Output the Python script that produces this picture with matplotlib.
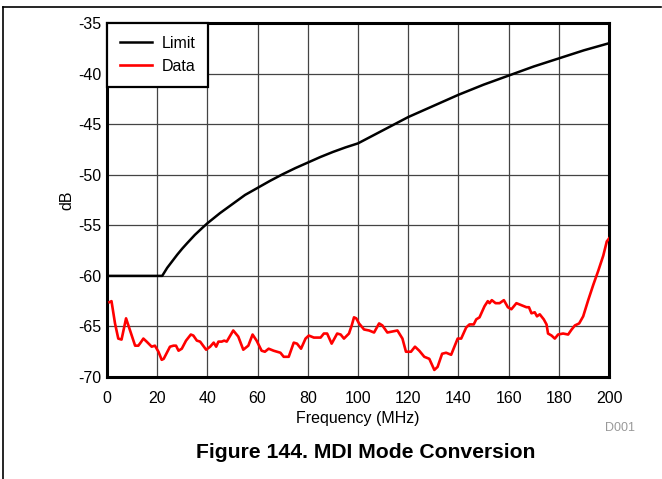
import numpy as np
import matplotlib.pyplot as plt
from matplotlib.lines import Line2D

plt.rcParams['font.family'] = ['Liberation Sans', 'DejaVu Sans']
plt.rcParams['axes.unicode_minus'] = False

# Limite
limit_f = [0, 22, 23, 24, 26, 28, 30, 32, 35, 38, 40, 45, 50, 55, 60, 65, 70, 75, 80,
           85, 90, 95, 100, 110, 120, 130, 140, 150, 160, 170, 180, 190, 200]
limit_db = [-60, -60, -59.6, -59.2, -58.55, -57.9, -57.3, -56.75, -55.95, -55.25, -54.8,
            -53.8, -52.9, -52.0, -51.3, -50.6, -49.95, -49.35, -48.8, -48.25, -47.75,
            -47.3, -46.9, -45.6, -44.3, -43.2, -42.1, -41.1, -40.2, -39.3, -38.5,
            -37.7, -37.0]

data_f = [1.0, 1.8, 3.2, 4.5, 5.8, 7.6, 9.2, 11.2, 12.5, 13.4, 14.5, 15.8, 17.8, 19.1,
          20.5, 21.8, 22.6, 25.1, 26.5, 27.5, 28.5, 29.8, 31.5, 33.4, 34.4, 35.8, 37.1,
          39.5, 41.1, 42.5, 43.5, 44.4, 45.7, 46.7, 47.7, 50.3, 52.3, 54.3, 56.3, 58.0,
          59.6, 61.6, 62.9, 64.4, 66.4, 69.1, 70.4, 72.4, 74.4, 75.7, 77.3, 79.1, 80.4,
          82.4, 85.1, 86.4, 87.7, 89.5, 91.7, 93.1, 94.4, 96.4, 97.5, 98.4, 99.3, 100.4,
          102.4, 104.4, 106.4, 108.4, 109.7, 111.7, 113.7, 115.7, 117.7, 119.1, 121.1,
          122.7, 124.4, 126.4, 128.4, 130.4, 131.7, 133.5, 135.1, 137.1, 138.4, 139.7,
          141.1, 143.1, 144.4, 146.1, 147.1, 148.4, 150.4, 151.7, 152.4, 153.3, 154.8,
          156.4, 158.1, 159.7, 161.1, 163.1, 165.1, 167.1, 168.1, 169.1, 170.4, 171.3,
          172.4, 174.0, 175.1, 175.7, 177.1, 178.4, 179.7, 181.7, 183.7, 185.1, 186.4,
          188.1, 189.7, 191.7, 193.7, 195.7, 197.7, 199.1, 200.0]
data_db = [-62.6, -62.5, -64.7, -66.2, -66.3, -64.2, -65.4, -66.9, -66.9, -66.6, -66.2,
           -66.5, -67.0, -66.9, -67.5, -68.3, -68.2, -67.0, -66.9, -66.9, -67.4, -67.2,
           -66.4, -65.8, -65.9, -66.4, -66.5, -67.3, -67.0, -66.6, -67.0, -66.5, -66.5,
           -66.4, -66.5, -65.4, -66.0, -67.3, -66.9, -65.8, -66.4, -67.4, -67.5, -67.2,
           -67.4, -67.6, -68.0, -68.0, -66.6, -66.7, -67.2, -66.2, -65.9, -66.1, -66.1,
           -65.7, -65.7, -66.7, -65.7, -65.8, -66.2, -65.7, -64.9, -64.1, -64.2, -64.7,
           -65.3, -65.4, -65.6, -64.7, -64.9, -65.6, -65.5, -65.4, -66.2, -67.5, -67.5,
           -67.0, -67.4, -68.0, -68.2, -69.3, -69.0, -67.7, -67.6, -67.8, -67.0, -66.2,
           -66.2, -65.1, -64.8, -64.8, -64.3, -64.1, -63.0, -62.5, -62.7, -62.4, -62.7,
           -62.7, -62.4, -63.1, -63.3, -62.7, -62.9, -63.1, -63.1, -63.7, -63.6, -64.0,
           -63.8, -64.3, -64.8, -65.7, -65.9, -66.2, -65.8, -65.7, -65.8, -65.3, -64.9,
           -64.7, -64.0, -62.4, -60.9, -59.5, -58.0, -56.6, -56.3]

xticks = np.arange(0, 201, 20)
yticks = np.arange(-70, -34, 5)

fig = plt.figure(figsize=(6.62, 4.79), dpi=100)
ax = fig.add_axes([0.1616, 0.2129, 0.7584, 0.7391])

ax.plot(limit_f, limit_db, color='black', lw=1.8, label='Limit', zorder=3)
ax.plot(data_f, data_db, color='red', lw=1.9, label='Data', zorder=3)

ax.set_xlim(0, 200)
ax.set_ylim(-70, -35)
ax.set_xticks(xticks)
ax.set_yticks(yticks)
ax.tick_params(length=0, labelsize=11.5)
ax.tick_params(axis='x', pad=10)
ax.tick_params(axis='y', pad=4)
ax.grid(True, color='#444444', lw=0.9)
for s in ax.spines.values():
    s.set_linewidth(2.2)

ax.set_xlabel('Frequency (MHz)', fontsize=11.5, labelpad=4)
ax.set_ylabel('dB', fontsize=11.5, labelpad=3)

leg = ax.legend(loc='upper left', bbox_to_anchor=(0, 1), borderaxespad=0,
                fontsize=11.5, fancybox=False, framealpha=1, edgecolor='black',
                handlelength=2.0, handletextpad=0.6, borderpad=0.8, labelspacing=0.5)
leg.get_frame().set_linewidth(1.6)

fig.text(0.553, 0.055, 'Figure 144. MDI Mode Conversion', ha='center', va='center',
         fontsize=15.2, fontweight='bold')
fig.text(0.937, 0.106, 'D001', ha='center', va='center', fontsize=9, color='#999999')

# marco de la pagina
fig.add_artist(Line2D([0.0045, 0.998], [0.985, 0.985], color='black', lw=1.2))
fig.add_artist(Line2D([0.0045, 0.0045], [0, 0.985], color='black', lw=1.2))

fig.savefig('out.png', dpi=100)
